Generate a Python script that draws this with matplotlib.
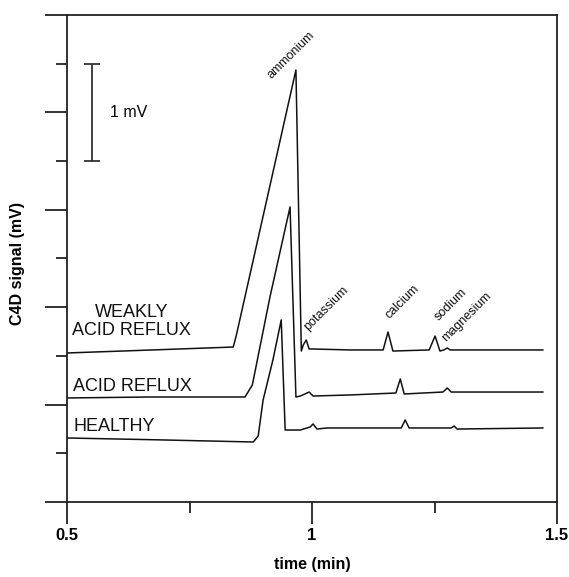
import matplotlib
matplotlib.use("Agg")
import matplotlib.pyplot as plt
from matplotlib.ticker import MultipleLocator

plt.rcParams['font.family'] = ['Liberation Sans', 'DejaVu Sans']

# electropherograms: time (min) vs C4D signal (mV), offset per sample
weak_t = [0.500, 0.669, 0.839, 0.845, 0.967, 0.978, 0.982, 0.988, 0.994, 1.000, 1.078,
          1.145, 1.155, 1.165, 1.239, 1.251, 1.261, 1.269, 1.276, 1.282, 1.384, 1.471]
weak_y = [1.530, 1.560, 1.591, 1.704, 4.435, 1.550, 1.612, 1.663, 1.571, 1.571, 1.561,
          1.561, 1.745, 1.550, 1.561, 1.704, 1.550, 1.561, 1.581, 1.561, 1.561, 1.561]

acid_t = [0.500, 0.669, 0.863, 0.878, 0.914, 0.955, 0.967, 0.976, 0.994, 1.002, 1.078,
          1.171, 1.180, 1.188, 1.267, 1.276, 1.284, 1.384, 1.471]
acid_y = [1.068, 1.078, 1.078, 1.201, 2.105, 3.029, 1.078, 1.088, 1.129, 1.088, 1.099,
          1.119, 1.263, 1.109, 1.129, 1.170, 1.129, 1.129, 1.129]

healthy_t = [0.500, 0.669, 0.880, 0.890, 0.900, 0.920, 0.937, 0.945, 0.976, 0.996,
             1.002, 1.010, 1.031, 1.139, 1.182, 1.190, 1.198, 1.284, 1.290, 1.296, 1.471]
healthy_y = [0.657, 0.640, 0.616, 0.678, 1.047, 1.458, 1.869, 0.739, 0.739, 0.770,
             0.801, 0.749, 0.760, 0.760, 0.760, 0.842, 0.760, 0.760, 0.780, 0.749, 0.760]

sample_names = ["WEAKLY\nACID REFLUX", "ACID REFLUX", "HEALTHY"]
sample_label_pos = [(0.632, 1.85), (0.512, 1.19), (0.512, 0.77)]

ions = ["ammonium", "potassium", "calcium", "sodium", "magnesium"]
ion_pos = [(0.922, 4.32), (0.997, 1.74), (1.163, 1.86), (1.262, 1.84), (1.278, 1.62)]

fig = plt.figure(figsize=(5.69, 5.77), dpi=100)
ax = fig.add_axes([0.118, 0.130, 0.861, 0.844])

line_kw = dict(color="#111111", lw=1.1)
ax.plot(weak_t, weak_y, **line_kw)
ax.plot(acid_t, acid_y, **line_kw)
ax.plot(healthy_t, healthy_y, **line_kw)

for name, (x, y) in zip(sample_names, sample_label_pos):
    ax.text(x, y, name, fontsize=13, ha="center" if "\n" in name else "left",
            va="center", linespacing=1.05, color="#111111", multialignment="center")

for ion, (x, y) in zip(ions, ion_pos):
    ax.text(x, y, ion, fontsize=9, rotation=45, ha="left", va="bottom",
            rotation_mode="anchor", color="#111111")

# 1 mV scale bar
ax.errorbar([0.551], [4.0], yerr=[[0.5], [0.5]], fmt="none", ecolor="#333333",
            elinewidth=1.3, capsize=6, capthick=1.3)
ax.text(0.588, 4.0, "1 mV", fontsize=11.5, va="center", ha="left")

ax.set_xlim(0.5, 1.5)
ax.set_ylim(0, 5)
ax.xaxis.set_major_locator(MultipleLocator(0.5))
ax.xaxis.set_minor_locator(MultipleLocator(0.25))
ax.yaxis.set_major_locator(MultipleLocator(1))
ax.yaxis.set_minor_locator(MultipleLocator(0.5))
ax.set_xticks([0.5, 1.0, 1.5])
ax.set_xticklabels(["0.5", "1", "1.5"], fontweight="bold", fontsize=12)
ax.set_yticklabels([])
ax.tick_params(which="major", length=16, width=1.3, color="#222222", pad=3)
ax.tick_params(which="minor", length=8, width=1.3, color="#222222")
for s in ax.spines.values():
    s.set_linewidth(1.3)
    s.set_color("#222222")

ax.set_xlabel("time (min)", fontweight="bold", fontsize=11.5, labelpad=10)
ax.set_ylabel("C4D signal (mV)", fontweight="bold", fontsize=11.5)
ax.yaxis.set_label_coords(-0.085, 0.49)

fig.savefig("out.png", dpi=100)
